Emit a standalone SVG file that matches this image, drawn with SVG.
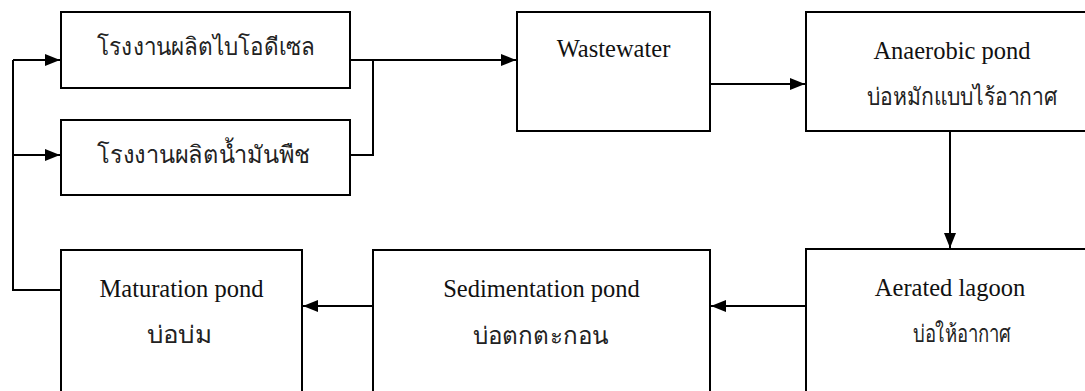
<svg xmlns="http://www.w3.org/2000/svg" width="1085" height="391" viewBox="0 0 1085 391">
<defs>
<marker id="ah" markerUnits="userSpaceOnUse" markerWidth="16" markerHeight="13" refX="15" refY="6" orient="auto">
<path d="M0,0 L15,6 L0,12 z" fill="#000"/>
</marker>
<style>
.box{fill:#fff;stroke:#000;stroke-width:2}
.en{font-family:"Liberation Serif","Times New Roman",serif;font-size:24.5px;fill:#111;text-anchor:middle}
.th{font-family:"Noto Sans","DejaVu Sans",sans-serif;font-size:24px;font-weight:300;fill:#222}
.c{fill:none;stroke:#000;stroke-width:2}
.ca{fill:none;stroke:#000;stroke-width:2;marker-end:url(#ah)}
</style>
</defs>
<rect width="1085" height="391" fill="#fff"/>
<g id="biodiesel"><rect class="box" x="61" y="12" width="289" height="76"/><text class="th" x="97" y="55" textLength="218" lengthAdjust="spacingAndGlyphs">โรงงานผลิตไบโอดีเซล</text></g>
<g id="vegoil"><rect class="box" x="61" y="120" width="289" height="75"/><text class="th" x="97" y="163" textLength="213" lengthAdjust="spacingAndGlyphs">โรงงานผลิตน้ำมันพืช</text></g>
<g id="wastewater"><rect class="box" x="517" y="12" width="193" height="119"/><text class="en" x="613.5" y="57">Wastewater</text></g>
<g id="anaerobic"><rect class="box" x="806" y="12" width="280" height="119"/><text class="en" x="952" y="59">Anaerobic pond</text><text class="th" x="867" y="105" textLength="190" lengthAdjust="spacingAndGlyphs">บ่อหมักแบบไร้อากาศ</text></g>
<g id="aerated"><rect class="box" x="806" y="249" width="280" height="144"/><text class="en" x="950" y="296">Aerated lagoon</text><text class="th" x="913" y="342" textLength="98" lengthAdjust="spacingAndGlyphs">บ่อให้อากาศ</text></g>
<g id="sedimentation"><rect class="box" x="373" y="250" width="337" height="143"/><text class="en" x="541.5" y="297">Sedimentation pond</text><text class="th" x="473" y="344" textLength="135" lengthAdjust="spacingAndGlyphs">บ่อตกตะกอน</text></g>
<g id="maturation"><rect class="box" x="61" y="250" width="241" height="143"/><text class="en" x="181.5" y="297">Maturation pond</text><text class="th" x="147" y="343" textLength="65" lengthAdjust="spacingAndGlyphs">บ่อบ่ม</text></g>
<g id="connectors">
<path class="c" d="M350,60 H373 M350,155 H373 V60"/>
<path class="ca" d="M373,60 H516"/>
<path class="ca" d="M710,84 H805"/>
<path class="ca" d="M950,131 V248"/>
<path class="ca" d="M806,306 H711"/>
<path class="ca" d="M373,306 H303"/>
<path class="c" d="M61,290 H13 V60"/>
<path class="ca" d="M13,60 H60"/>
<path class="ca" d="M13,155 H60"/>
</g>
</svg>
